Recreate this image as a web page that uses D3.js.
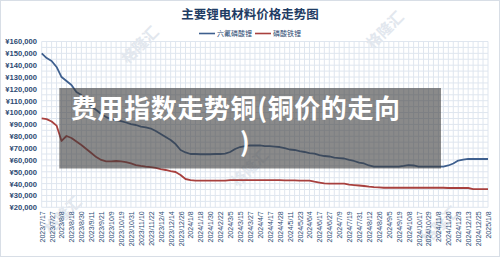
<!DOCTYPE html>
<html>
<head>
<meta charset="utf-8">
<script src="https://cdn.jsdelivr.net/npm/d3@7"></script>
<style>
  body { margin: 0; background: #fff; }
  svg { display: block; }
</style>
</head>
<body>
<svg></svg>
<script>
const width = 500;
const height = 258;

// date labels on the x axis (one every 2 data steps)
const labels = ['2023/7/17','2023/7/27','2023/8/8','2023/8/18','2023/8/30','2023/9/11','2023/9/21','2023/10/9',
  '2023/10/19','2023/10/31','2023/11/10','2023/11/22','2023/12/4','2023/12/14','2023/12/26','2024/1/8',
  '2024/1/18','2024/1/30','2024/2/22','2024/3/5','2024/3/15','2024/3/27','2024/4/7','2024/4/17',
  '2024/4/28','2024/5/11','2024/5/23','2024/6/4','2024/6/17','2024/6/27','2024/7/9','2024/7/19',
  '2024/7/31','2024/8/12','2024/8/26','2024/9/5','2024/9/19','2024/10/8','2024/10/17','2024/10/29',
  '2024/11/8','2024/11/20','2024/12/3','2024/12/13','2024/12/25','2025/1/8']

const seriesNames = ['六氟磷酸锂', '磷酸铁锂']

// 六氟磷酸锂 at every half label step
const lipf6 = [150000,146000,143500,138500,130000,126600,123300,117300,114800,109700,
  105500,102100,98800,96200,94500,93700,92800,91600,90300,89500,
  88200,87400,86500,84400,81900,79300,76800,73400,68400,66300,
  65000,65000,64800,64800,64800,65000,65000,65400,66700,69200,
  70900,71700,72200,72200,72200,71700,71700,71300,70900,70000,
  68800,68400,67500,66700,65800,65400,64100,63300,62900,62000,
  61600,61200,60000,59100,57800,57000,55300,54300,54300,54300,
  54300,54300,54300,54900,55700,55300,54400,54300,54400,54400,
  54400,54400,55300,57000,59500,60300,60800,60800,60800,60800,60800]

// 磷酸铁锂
const lfp = [95100,94500,92400,89000,76000,80200,78500,75500,72600,69200,
  65800,62400,60000,58700,58700,59100,58700,58200,57000,55700,
  54900,54400,54000,53200,52300,51500,50600,49800,47300,43900,
  43000,42600,42600,42600,42600,42600,42600,42600,43000,43000,
  43000,43000,43000,43000,43000,43000,43000,43000,43000,42800,
  42800,42800,42500,42500,42500,41600,40900,40200,40000,40000,
  40000,40000,39200,38800,38400,38000,37500,37100,36900,36500,
  36500,36500,36500,36500,36500,36500,36500,36500,36500,36500,
  36500,36500,36300,36300,36300,36300,36300,35400,35400,35400,35400]

const yTicks = d3.range(20000, 160001, 10000)

const font = "'Liberation Sans', Arial, sans-serif"
const cjk = "'Noto Sans CJK SC', sans-serif"

const svg = d3.select("svg")
  .attr("width", width)
  .attr("height", height)

svg.append("rect")
  .attr("x", 0.5).attr("y", 0.5)
  .attr("width", width - 1).attr("height", height - 2)
  .attr("fill", "#fff")
  .attr("stroke", "#d8dee6")

const x = d3.scaleLinear().domain([0, lipf6.length - 1]).range([41.7, 488])
const y = d3.scaleLinear().domain([20000, 160000]).range([207.3, 41.5])

// grid
const grid = svg.append("g").attr("stroke", "#dfe6ef").attr("stroke-width", 1)
grid.selectAll("line.v")
  .data(d3.range(lipf6.length))
  .join("line")
  .attr("class", "v")
  .attr("x1", d => x(d)).attr("x2", d => x(d))
  .attr("y1", y(160000)).attr("y2", y(20000))
grid.selectAll("line.h")
  .data(d3.range(20000, 160001, 5000))
  .join("line")
  .attr("class", "h")
  .attr("x1", x(0)).attr("x2", x(lipf6.length - 1))
  .attr("y1", d => y(d)).attr("y2", d => y(d))

// watermarks
const marks = [[140, 45], [385, 30], [63, 215], [250, 168], [440, 225]]
svg.append("g").selectAll("text")
  .data(marks)
  .join("text")
  .attr("transform", d => `translate(${d[0]},${d[1]}) rotate(-45)`)
  .attr("text-anchor", "middle")
  .attr("dy", "0.35em")
  .attr("font-family", cjk)
  .attr("font-weight", "bold")
  .attr("font-size", 15)
  .attr("fill", "#e2e7ee")
  .text("格隆汇")

// y axis
const yAxis = svg.append("g")
  .attr("transform", "translate(41,0)")
  .call(d3.axisLeft(y).tickValues(yTicks).tickSize(0).tickPadding(4)
    .tickFormat(d => "¥" + d3.format(",")(d)))
yAxis.select(".domain").remove()
yAxis.selectAll("text")
  .attr("font-family", font)
  .attr("font-size", 7.6)
  .attr("font-weight", "bold")
  .attr("fill", "#2c4a72")

// x axis
const xAxis = svg.append("g")
  .attr("transform", `translate(0,${y(20000)})`)
  .call(d3.axisBottom(x).tickValues(d3.range(0, lipf6.length, 2)).tickSize(0)
    .tickFormat(i => labels[i / 2]))
xAxis.select(".domain").remove()
xAxis.selectAll("text")
  .attr("transform", "rotate(-90)")
  .attr("text-anchor", "end")
  .attr("x", -4).attr("y", 0).attr("dy", "0.35em")
  .attr("font-family", font)
  .attr("font-size", 7)
  .attr("fill", "#2b4a74")

// lines
const line = d3.line().x((d, i) => x(i)).y(d => y(d))
const colors = ["#3e5f8e", "#a8403e"]
svg.selectAll("path.series")
  .data([lipf6, lfp])
  .join("path")
  .attr("class", "series")
  .attr("d", line)
  .attr("fill", "none")
  .attr("stroke", (d, i) => colors[i])
  .attr("stroke-width", 1.8)
  .attr("stroke-linejoin", "round")

// title
svg.append("text")
  .attr("x", 250).attr("y", 19)
  .attr("text-anchor", "middle")
  .attr("font-family", cjk)
  .attr("font-weight", "bold")
  .attr("font-size", 12.5)
  .attr("fill", "#1f3c64")
  .text("主要锂电材料价格走势图")

// legend
const legend = svg.append("g")
const legendX = [199, 255]
legend.selectAll("line")
  .data(seriesNames)
  .join("line")
  .attr("x1", (d, i) => legendX[i]).attr("x2", (d, i) => legendX[i] + 16)
  .attr("y1", 33.5).attr("y2", 33.5)
  .attr("stroke", (d, i) => colors[i])
  .attr("stroke-width", 1.6)
legend.selectAll("text")
  .data(seriesNames)
  .join("text")
  .attr("x", (d, i) => legendX[i] + 18)
  .attr("y", 33.5).attr("dy", "0.35em")
  .attr("font-family", cjk)
  .attr("font-size", 7)
  .attr("fill", "#2c4a72")
  .text(d => d)

// overlay caption
svg.append("rect")
  .attr("x", 59.3).attr("y", 88)
  .attr("width", 381.7).attr("height", 80.5)
  .attr("fill", "rgba(60,60,60,0.6)")
const cap = svg.append("g")
  .attr("font-family", cjk)
  .attr("font-weight", "bold")
  .attr("font-size", 26)
  .attr("fill", "#fff")
cap.append("text")
  .attr("x", 71).attr("y", 118)
  .attr("letter-spacing", 0.6)
  .text("费用指数走势铜(铜价的走向")
cap.append("text")
  .attr("x", 245).attr("y", 152)
  .attr("text-anchor", "middle")
  .text(")")
</script>
</body>
</html>
